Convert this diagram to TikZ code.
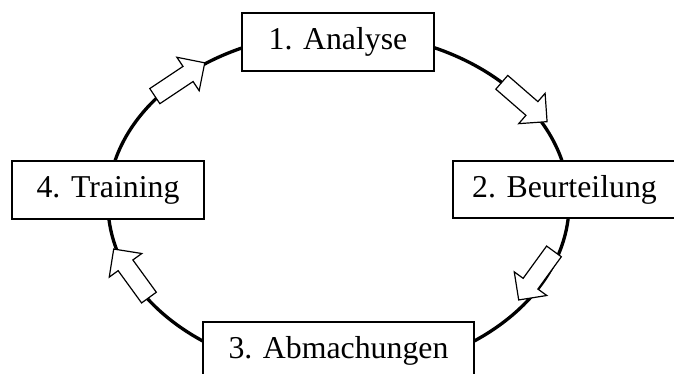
\documentclass[tikz,border=0pt]{standalone}
\usepackage{fontspec}
\setmainfont{Liberation Serif}
\usetikzlibrary{shapes.arrows}
\begin{document}
\begin{tikzpicture}[x=1pt,y=-1pt,
  stagebox/.style={draw=black, line width=1.2pt, fill=white, inner sep=0pt,
    font=\fontsize{31.8}{38}\selectfont},
  blockarrow/.style={single arrow, draw=black, fill=white, line width=1.2pt,
    minimum height=60pt, inner xsep=0pt, inner ysep=8.5pt,
    single arrow head extend=11pt, single arrow tip angle=90},
  cycleline/.style={draw=black, line width=3.3pt}]
  \clip (0,0) rectangle (674,374);
  \fill[white] (0,0) rectangle (674,374);
  % cycle
  \draw[cycleline] (338.5,203) ellipse [x radius=230.6, y radius=170.7];
  % stages
  \node[stagebox, minimum width=192pt, minimum height=58pt] (s1) at (338,42) {1. Analyse};
  \node[stagebox, minimum width=223pt, minimum height=57pt] (s2) at (564.5,189.5) {2. Beurteilung};
  \node[stagebox, minimum width=271pt, minimum height=58pt] (s3) at (338.5,351) {3. Abmachungen};
  \node[stagebox, minimum width=192pt, minimum height=58pt] (s4) at (108,190) {4. Training};
  % arrows
  \node[blockarrow, rotate=33.7] (a1) at (176,82) {};
  \node[blockarrow, rotate=-41] (a2) at (521,99) {};
  \node[blockarrow, rotate=-126] (a3) at (539,272) {};
  \node[blockarrow, rotate=126] (a4) at (134,277) {};
\end{tikzpicture}
\end{document}
